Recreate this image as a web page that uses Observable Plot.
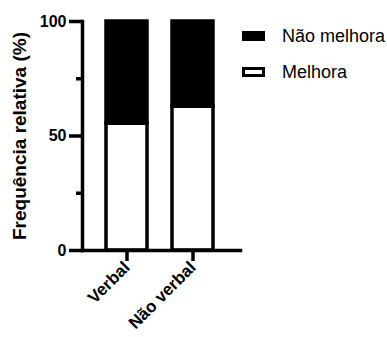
<!DOCTYPE html>
<html>
<head>
<meta charset="utf-8">
<script src="https://cdn.jsdelivr.net/npm/d3@7"></script>
<script src="https://cdn.jsdelivr.net/npm/@observablehq/plot@0.6"></script>
<style>
  html, body { margin: 0; padding: 0; background: #fff; }
  #wrap { position: relative; width: 387px; height: 337px; font-family: "Liberation Sans", Arial, sans-serif; }
  #legend { position: absolute; left: 242px; top: 27px; }
  .item { display: flex; align-items: center; height: 18px; margin-bottom: 18px; font-size: 18px; color: #000; }
  .sw { width: 23px; height: 10px; box-sizing: border-box; border: 3px solid #000; margin-right: 17px; }
</style>
</head>
<body>
<div id="wrap"><div id="legend"></div></div>
<script>
const categories = ["Verbal", "Não verbal"];
const melhora = [55.4, 62.8];
const naoMelhora = [44.6, 37.2];
const seriesNames = ["Não melhora", "Melhora"];
const seriesColors = ["#000000", "#ffffff"];
const yTicks = [0, 50, 100];
const yMinorTicks = [25, 75];
const yLabel = "Frequência relativa (%)";

const rows = [];
categories.forEach((c, i) => {
  rows.push({cat: c, status: "Melhora", value: melhora[i]});
  rows.push({cat: c, status: "Não melhora", value: naoMelhora[i]});
});

const chart = Plot.plot({
  width: 387,
  height: 337,
  marginLeft: 82,
  marginRight: 147,
  marginTop: 21,
  marginBottom: 87,
  style: {fontFamily: "'Liberation Sans', Arial, sans-serif", fontWeight: "bold", color: "#000", background: "#fff", overflow: "visible"},
  x: {domain: categories, paddingInner: 0.373, paddingOuter: 0.366, align: 0.48},
  y: {domain: [0, 100]},
  color: {domain: seriesNames, range: seriesColors},
  marks: [
    Plot.barY(rows, {x: "cat", y: "value", fill: "status", stroke: "#000", strokeWidth: 3.5,
      order: ["Melhora", "Não melhora"], inset: 0}),
    Plot.axisY({ticks: yMinorTicks, tickSize: 6, strokeWidth: 3.5, text: null, label: null}),
    Plot.axisY({ticks: yTicks, tickSize: 13, strokeWidth: 3.5, tickPadding: 3, fontSize: 16,
      fontWeight: "bold", label: yLabel, labelAnchor: "center", labelArrow: "none", labelOffset: 70}),
    Plot.axisX({tickSize: 11, strokeWidth: 3.5, tickRotate: -45, fontSize: 17, fontWeight: "bold",
      tickPadding: 3, label: null}),
    Plot.frame({anchor: "left", strokeWidth: 3.5, strokeLinecap: "square"}),
    Plot.frame({anchor: "bottom", strokeWidth: 3.5, strokeLinecap: "square"})
  ]
});
d3.select(chart).selectAll("text").attr("fill", "#000");
d3.select(chart).selectAll("[aria-label='y-axis label'] text").style("font-size", "19px");

const wrap = document.getElementById("wrap");
wrap.insertBefore(chart, wrap.firstChild);

const legend = d3.select("#legend");
seriesNames.forEach((name, i) => {
  const item = legend.append("div").attr("class", "item");
  item.append("div").attr("class", "sw").style("background", seriesColors[i]);
  item.append("span").text(name);
});
</script>
</body>
</html>
